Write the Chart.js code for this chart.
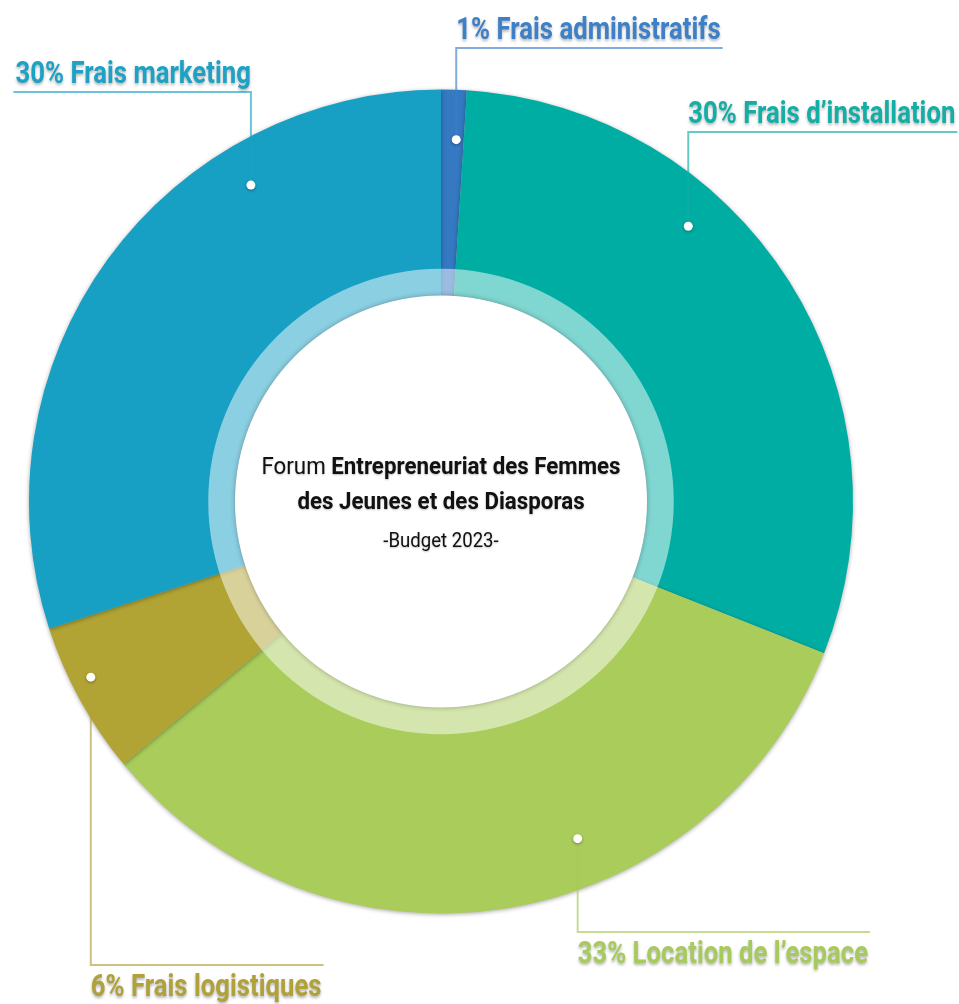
<!DOCTYPE html>
<html>
<head>
<meta charset="utf-8">
<script src="https://cdn.jsdelivr.net/npm/chart.js@4.4.1/dist/chart.umd.min.js"></script>
<style>
  html, body { margin: 0; padding: 0; background: #fff; }
  #wrap { width: 959px; height: 1004px; position: relative; }
</style>
</head>
<body>
<div id="wrap"><canvas id="budgetChart"></canvas></div>
<script>
// Budget 2023 split
var categories = ['Frais administratifs', 'Frais d\u2019installation', 'Location de l\u2019espace', 'Frais logistiques', 'Frais marketing'];
var shares = [1, 30, 33, 6, 30];
var sliceColors = ['#3579C3', '#00ADA3', '#A9CC5A', '#B1A434', '#179FC4'];
var textColors = ['#3D80C8', '#13AEA5', '#A7CA5C', '#AFA23A', '#1DA2C6'];
var centerLines = ['Forum ', 'Entrepreneuriat des Femmes', 'des Jeunes et des Diasporas', '-Budget 2023-'];

// label placement: anchor inside the slice (share of its sweep, share of radius),
// y of the rule and whether the text goes to the left of the anchor / below the rule
var labelLayout = [
  { t: 0.67, r: 0.879, ruleY: 48, left: false, below: false },
  { t: 0.355, r: 0.898, ruleY: 132, left: false, below: false },
  { t: 0.39, r: 0.883, ruleY: 932, left: false, below: true },
  { t: 0.6, r: 0.951, ruleY: 965, left: false, below: true },
  { t: 0.713, r: 0.896, ruleY: 92, left: true, below: false }
];

var LABEL_FONT = 'bold 31px Roboto, "Liberation Sans", sans-serif';
var LABEL_SX = 0.83;
var CENTER_SX = 0.93;

function scaledText(ctx, str, x, y, align, font, sx) {
  ctx.font = font;
  var w = ctx.measureText(str).width * sx;
  var left = align === 'right' ? x - w : (align === 'center' ? x - w / 2 : x);
  ctx.save();
  ctx.translate(left, y);
  ctx.scale(sx, 1);
  ctx.textAlign = 'left';
  ctx.fillText(str, 0, 0);
  ctx.restore();
  return w;
}

var decorPlugin = {
  id: 'decor',
  beforeDatasetsDraw: function(chart) {
    var ctx = chart.ctx;
    ctx.save();
    ctx.shadowColor = 'rgba(0,0,0,0.35)';
    ctx.shadowBlur = 4;
    ctx.shadowOffsetY = 1;
  },
  afterDatasetsDraw: function(chart) {
    var ctx = chart.ctx;
    ctx.restore();
    var arcs = chart.getDatasetMeta(0).data;
    var a0 = arcs[0];
    var cx = a0.x, cy = a0.y, rIn = a0.innerRadius, rOut = a0.outerRadius;

    // translucent ring + white hole
    ctx.save();
    ctx.beginPath();
    ctx.arc(cx, cy, rIn * 1.13, 0, Math.PI * 2);
    ctx.arc(cx, cy, rIn, 0, Math.PI * 2, true);
    ctx.fillStyle = 'rgba(255,255,255,0.5)';
    ctx.fill();
    ctx.shadowColor = 'rgba(0,0,0,0.3)';
    ctx.shadowBlur = 5;
    ctx.beginPath();
    ctx.arc(cx, cy, rIn, 0, Math.PI * 2);
    ctx.fillStyle = '#fff';
    ctx.fill();
    ctx.restore();

    // centre title
    ctx.save();
    ctx.fillStyle = '#111';
    ctx.textBaseline = 'alphabetic';
    ctx.shadowColor = 'rgba(0,0,0,0.25)';
    ctx.shadowBlur = 2;
    ctx.shadowOffsetY = 1;
    var regular = '24px Roboto, "Liberation Sans", sans-serif';
    var bold = 'bold 24px Roboto, "Liberation Sans", sans-serif';
    ctx.font = regular;
    var w1 = ctx.measureText(centerLines[0]).width * CENTER_SX;
    ctx.font = bold;
    var w2 = ctx.measureText(centerLines[1]).width * CENTER_SX;
    var x0 = cx - (w1 + w2) / 2;
    scaledText(ctx, centerLines[0], x0, cy - 28, 'left', regular, CENTER_SX);
    scaledText(ctx, centerLines[1], x0 + w1, cy - 28, 'left', bold, CENTER_SX);
    scaledText(ctx, centerLines[2], cx, cy + 7, 'center', bold, CENTER_SX);
    scaledText(ctx, centerLines[3], cx, cy + 45, 'center', '20px Roboto, "Liberation Sans", sans-serif', CENTER_SX);
    ctx.restore();

    // leader lines and labels
    arcs.forEach(function(arc, i) {
      var L = labelLayout[i];
      var ang = arc.startAngle + L.t * (arc.endAngle - arc.startAngle);
      var px = cx + Math.cos(ang) * rOut * L.r;
      var py = cy + Math.sin(ang) * rOut * L.r;
      var text = shares[i] + '% ' + categories[i];
      ctx.font = LABEL_FONT;
      var tw = ctx.measureText(text).width * LABEL_SX;

      ctx.save();
      ctx.strokeStyle = textColors[i];
      ctx.globalAlpha = 0.65;
      ctx.lineWidth = 2;
      ctx.beginPath();
      ctx.moveTo(px, py);
      ctx.lineTo(px, L.ruleY);
      ctx.lineTo(L.left ? px - tw - 2 : px + tw + 2, L.ruleY);
      ctx.stroke();
      ctx.restore();

      ctx.save();
      ctx.shadowColor = 'rgba(0,0,0,0.35)';
      ctx.shadowBlur = 3;
      ctx.shadowOffsetY = 1;
      ctx.beginPath();
      ctx.arc(px, py, 4.5, 0, Math.PI * 2);
      ctx.fillStyle = '#fff';
      ctx.fill();
      ctx.restore();

      ctx.save();
      ctx.fillStyle = textColors[i];
      ctx.shadowColor = 'rgba(0,0,0,0.3)';
      ctx.shadowBlur = 3;
      ctx.shadowOffsetY = 2;
      var ty = L.below ? L.ruleY + 31 : L.ruleY - 9;
      scaledText(ctx, text, px, ty, L.left ? 'right' : 'left', LABEL_FONT, LABEL_SX);
      ctx.restore();
    });
  }
};

var ctx = document.getElementById('budgetChart').getContext('2d');
new Chart(ctx, {
  type: 'doughnut',
  data: {
    labels: categories,
    datasets: [{
      data: shares,
      backgroundColor: sliceColors,
      borderWidth: 0,
      hoverOffset: 0
    }]
  },
  options: {
    responsive: true,
    maintainAspectRatio: false,
    animation: false,
    cutout: '50%',
    layout: { padding: { left: 29, right: 106, top: 89.5, bottom: 90.5 } },
    plugins: {
      legend: { display: false },
      tooltip: { enabled: false }
    }
  },
  plugins: [decorPlugin]
});
</script>
</body>
</html>
